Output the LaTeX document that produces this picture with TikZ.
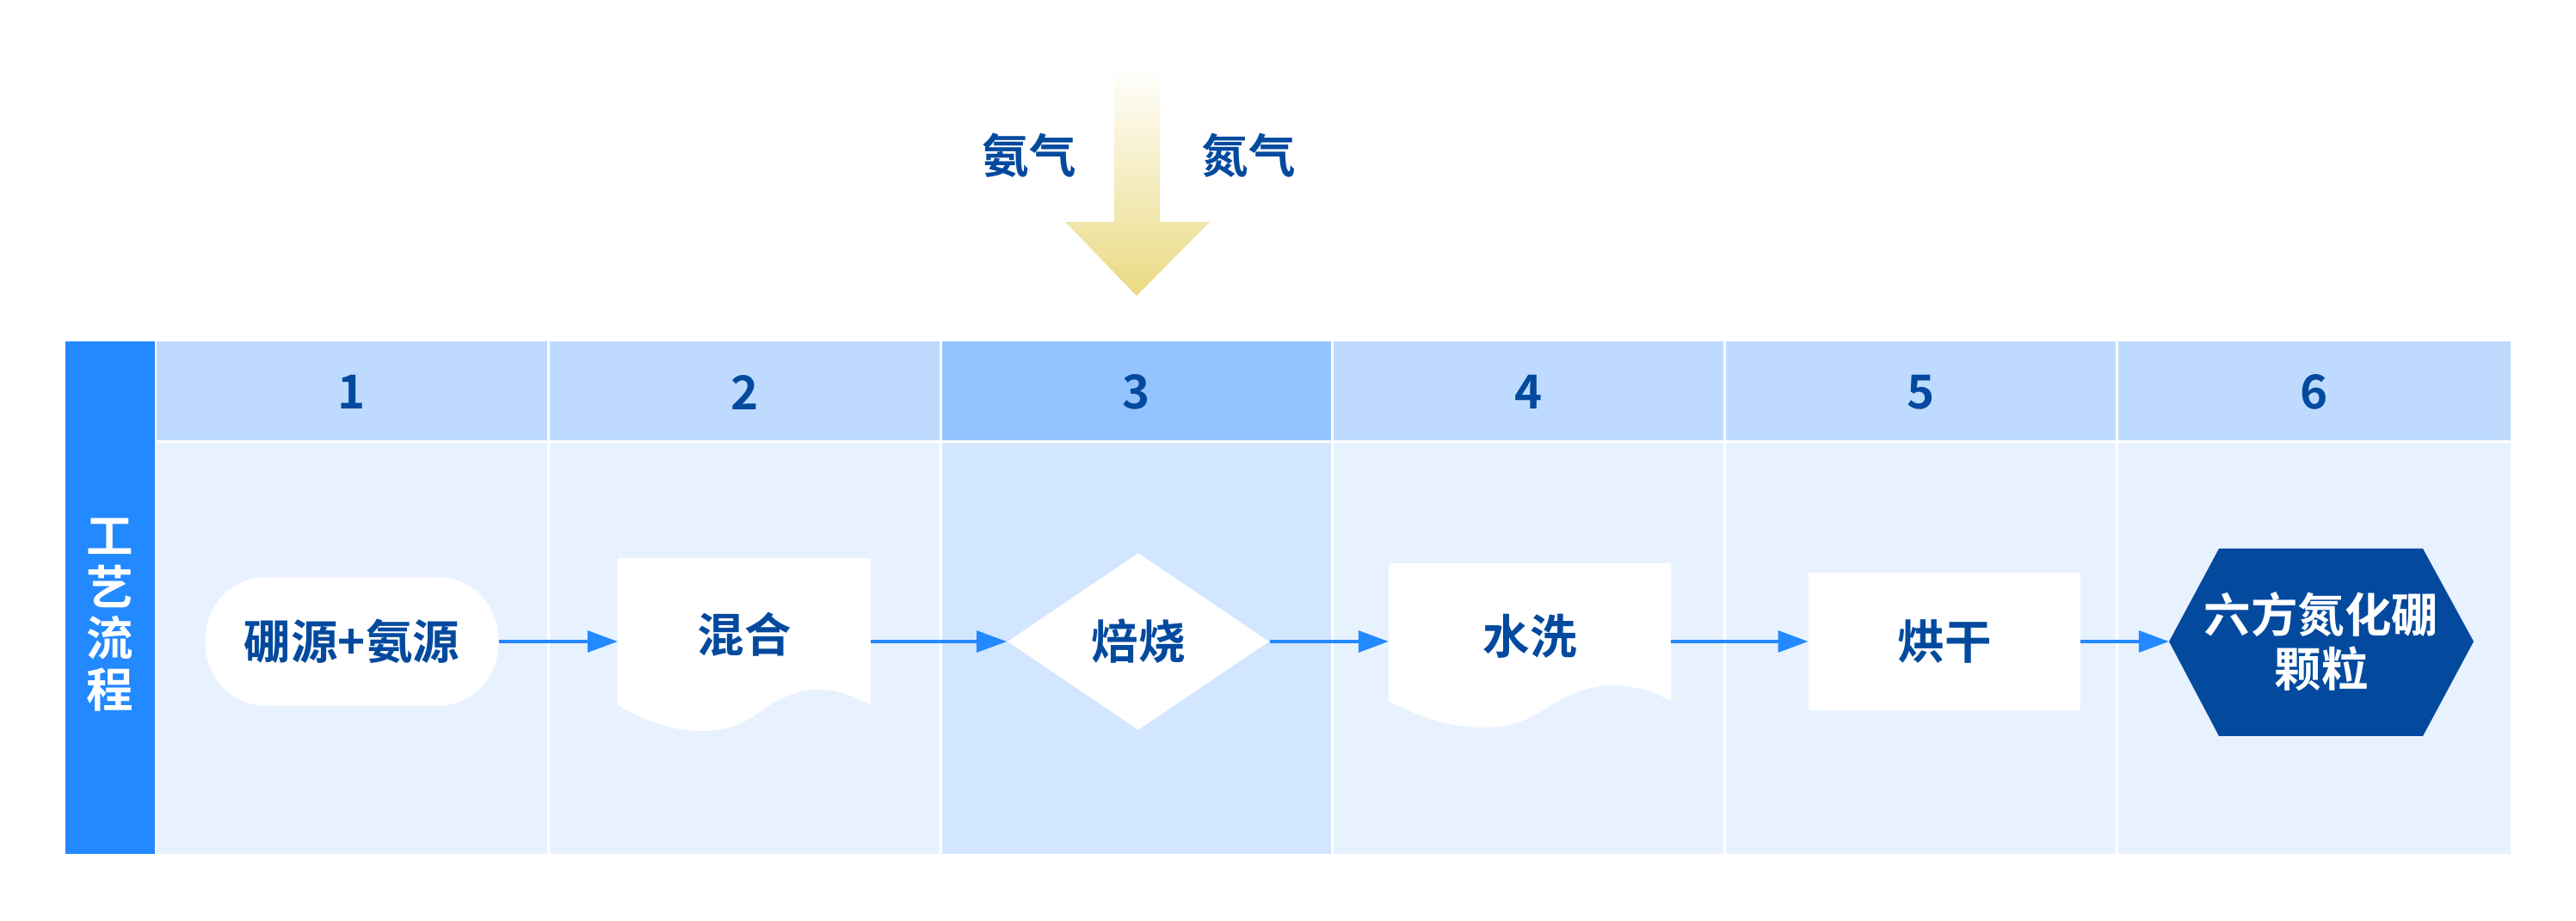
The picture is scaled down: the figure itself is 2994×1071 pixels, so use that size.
\documentclass[tikz,border=0pt]{standalone}
\usepackage{fontspec}
\newfontfamily\cjk{Noto Sans CJK SC}[BoldFont={Noto Sans CJK SC Bold}]
\usetikzlibrary{shapes.geometric,arrows.meta,shadings}
\definecolor{dblue}{HTML}{034A9E}
\definecolor{bar}{HTML}{2389FF}
\definecolor{hd}{HTML}{BEDBFF}
\definecolor{hdd}{HTML}{94C4FF}
\definecolor{bd}{HTML}{E8F2FF}
\definecolor{bdd}{HTML}{D3E6FF}
\definecolor{gold}{HTML}{E6D36C}
\begin{document}
\begin{tikzpicture}[x=0.01cm,y=-0.01cm,
  txt/.style={font=\cjk\bfseries\fontsize{15.5pt}{18pt}\selectfont,text=dblue,align=center},
  wtxt/.style={font=\cjk\bfseries\fontsize{15.5pt}{18pt}\selectfont,text=white,align=center},
  conn/.style={-{Triangle[length=10pt,width=7pt]},bar,line width=1.2pt},
  box/.style={fill=white,draw=none}]
\useasboundingbox (0,0) rectangle (2994,1071);
% bar
\fill[bar] (76,397) rectangle (180,993);
\node[wtxt,font=\cjk\bfseries\fontsize{15.5pt}{17pt}\selectfont] (lbl) at (128,715) {工\\艺\\流\\程};
% columns
\foreach \i/\xa/\xb in {1/182/636,2/639/1092,3/1095/1547,4/1550/2003,5/2006/2459,6/2462/2918}{
  \ifnum\i=3
    \fill[hdd] (\xa,397) rectangle (\xb,512);
    \fill[bdd] (\xa,515) rectangle (\xb,993);
  \else
    \fill[hd] (\xa,397) rectangle (\xb,512);
    \fill[bd] (\xa,515) rectangle (\xb,993);
  \fi
  \node[txt] (h\i) at ({(\xa+\xb)/2},456) {\i};
}
% top arrow
\shade[top color=white,bottom color=gold!85,shading angle=0]
  (1295,76) -- (1348,76) -- (1348,258) -- (1406,258) -- (1321,344) -- (1238,258) -- (1295,258) -- cycle;
\node[txt] (g1) at (1196,181) {氨气};
\node[txt] (g2) at (1451,181) {氮气};
% shapes
\node[box,rounded corners=20pt,minimum width=3.4cm,minimum height=1.49cm] (s1) at (409,746) {};
\node[txt] at (s1) {硼源+氨源};
\path[box] (718,649) -- (1012,649) -- (1012,820) .. controls (960,790) and (920,800) .. (880,830) .. controls (830,865) and (770,850) .. (718,820) -- cycle;
\coordinate (s2w) at (718,746); \coordinate (s2e) at (1012,746);
\node[txt] (s2) at (865,738) {混合};
\node[box,diamond,minimum width=3.04cm,minimum height=2.06cm,inner sep=0pt] (s3) at (1323,746) {};
\node[txt] at (s3) {焙烧};
\path[box] (1614,655) -- (1942,655) -- (1942,815) .. controls (1885,785) and (1840,795) .. (1795,825) .. controls (1740,862) and (1670,845) .. (1614,815) -- cycle;
\coordinate (s4w) at (1614,746); \coordinate (s4e) at (1942,746);
\node[txt] (s4) at (1778,740) {水洗};
\node[box,minimum width=3.15cm,minimum height=1.6cm] (s5) at (2260,746) {};
\node[txt] at (s5) {烘干};
\fill[dblue] (2521,746) -- (2579,638) -- (2816,638) -- (2875,746) -- (2816,856) -- (2579,856) -- cycle;
\coordinate (s6) at (2521,746);
\node[wtxt] (t6) at (2698,746) {六方氮化硼\\颗粒};
% connectors
\draw[conn] (s1.east) -- (s2w);
\draw[conn] (s2e) -- (s3.west);
\draw[conn] (s3.east) -- (s4w);
\draw[conn] (s4e) -- (s5.west);
\draw[conn] (s5.east) -- (s6);
\end{tikzpicture}
\end{document}
